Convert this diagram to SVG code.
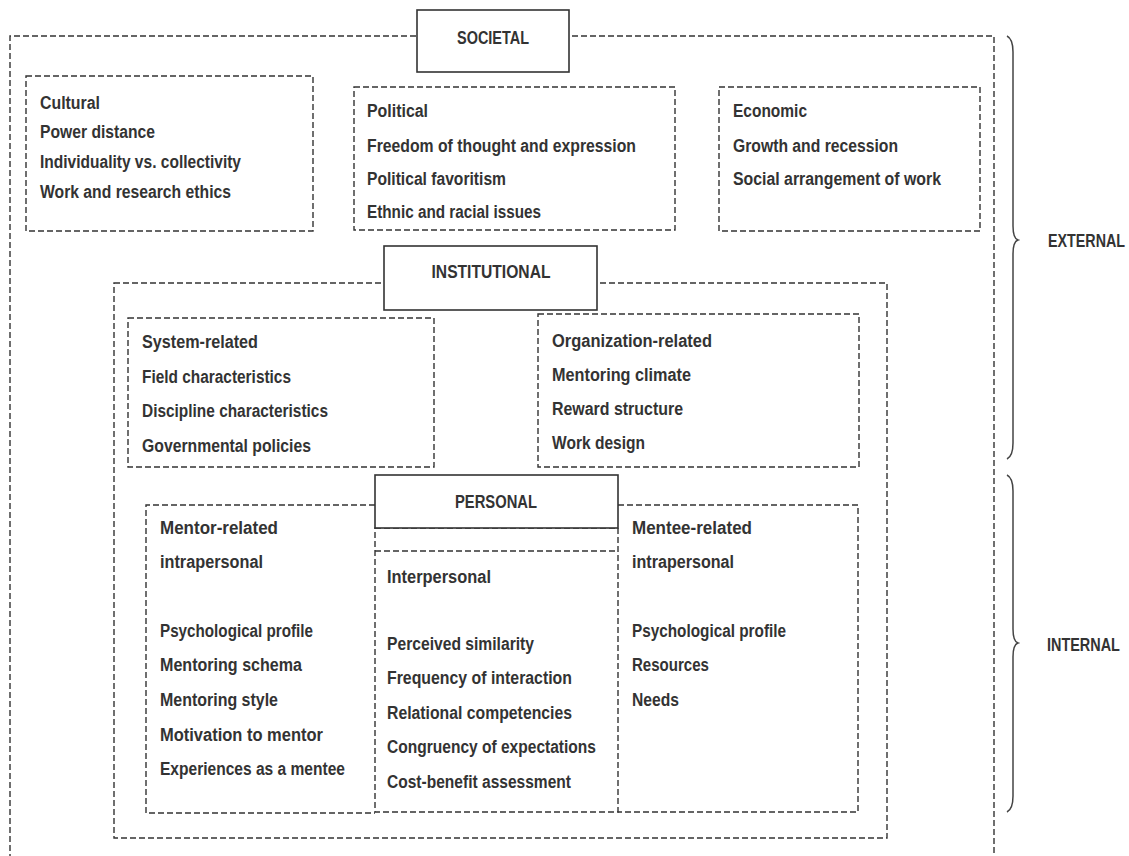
<svg xmlns="http://www.w3.org/2000/svg" width="1129" height="856" viewBox="0 0 1129 856">
  <style>
    .dash { fill: none; stroke: #333; stroke-width: 1.4; stroke-dasharray: 6 3; }
    .solid { fill: #fff; stroke: #333; stroke-width: 1.6; }
    .brace { fill: none; stroke: #444; stroke-width: 1.5; }
    text { font-family: "Liberation Sans", Arial, sans-serif; font-weight: bold; font-size: 18px; fill: #333; }
    .head { text-anchor: middle; }
  </style>
  <rect width="1129" height="856" fill="#fff"/>

  <!-- Societal level -->
  <g id="societal">
    <path class="dash" d="M10,860 V36 H994 V860"/>
    <rect class="solid" x="417" y="10" width="152" height="62"/>
    <text class="head" x="493" y="44" textLength="72" lengthAdjust="spacingAndGlyphs">SOCIETAL</text>
  </g>

  <g id="cultural">
    <rect class="dash" x="26" y="76" width="287" height="155"/>
    <text x="40" y="109" textLength="60" lengthAdjust="spacingAndGlyphs">Cultural</text>
    <text x="40" y="138" textLength="115" lengthAdjust="spacingAndGlyphs">Power distance</text>
    <text x="40" y="168" textLength="201" lengthAdjust="spacingAndGlyphs">Individuality vs. collectivity</text>
    <text x="40" y="198" textLength="191" lengthAdjust="spacingAndGlyphs">Work and research ethics</text>
  </g>

  <g id="political">
    <rect class="dash" x="354" y="87" width="321" height="143"/>
    <text x="367" y="117" textLength="61" lengthAdjust="spacingAndGlyphs">Political</text>
    <text x="367" y="152" textLength="269" lengthAdjust="spacingAndGlyphs">Freedom of thought and expression</text>
    <text x="367" y="185" textLength="139" lengthAdjust="spacingAndGlyphs">Political favoritism</text>
    <text x="367" y="218" textLength="174" lengthAdjust="spacingAndGlyphs">Ethnic and racial issues</text>
  </g>

  <g id="economic">
    <rect class="dash" x="719" y="87" width="261" height="144"/>
    <text x="733" y="117" textLength="74" lengthAdjust="spacingAndGlyphs">Economic</text>
    <text x="733" y="152" textLength="165" lengthAdjust="spacingAndGlyphs">Growth and recession</text>
    <text x="733" y="185" textLength="208" lengthAdjust="spacingAndGlyphs">Social arrangement of work</text>
  </g>

  <!-- Institutional level -->
  <g id="institutional">
    <rect class="dash" x="114" y="283" width="773" height="555"/>
    <rect class="solid" x="384" y="246" width="213" height="64"/>
    <text class="head" x="491" y="278" textLength="119" lengthAdjust="spacingAndGlyphs">INSTITUTIONAL</text>
  </g>

  <g id="system-related">
    <rect class="dash" x="128" y="318" width="306" height="149"/>
    <text x="142" y="348" textLength="116" lengthAdjust="spacingAndGlyphs">System-related</text>
    <text x="142" y="383" textLength="149" lengthAdjust="spacingAndGlyphs">Field characteristics</text>
    <text x="142" y="417" textLength="186" lengthAdjust="spacingAndGlyphs">Discipline characteristics</text>
    <text x="142" y="452" textLength="169" lengthAdjust="spacingAndGlyphs">Governmental policies</text>
  </g>

  <g id="organization-related">
    <rect class="dash" x="538" y="314" width="321" height="153"/>
    <text x="552" y="347" textLength="160" lengthAdjust="spacingAndGlyphs">Organization-related</text>
    <text x="552" y="381" textLength="139" lengthAdjust="spacingAndGlyphs">Mentoring climate</text>
    <text x="552" y="415" textLength="131" lengthAdjust="spacingAndGlyphs">Reward structure</text>
    <text x="552" y="449" textLength="93" lengthAdjust="spacingAndGlyphs">Work design</text>
  </g>

  <!-- Personal level -->
  <g id="mentor-related">
    <path class="dash" d="M375,505 H146 V813 H375"/>
    <text x="160" y="534" textLength="118" lengthAdjust="spacingAndGlyphs">Mentor-related</text>
    <text x="160" y="568" textLength="103" lengthAdjust="spacingAndGlyphs">intrapersonal</text>
    <text x="160" y="637" textLength="153" lengthAdjust="spacingAndGlyphs">Psychological profile</text>
    <text x="160" y="671" textLength="142" lengthAdjust="spacingAndGlyphs">Mentoring schema</text>
    <text x="160" y="706" textLength="118" lengthAdjust="spacingAndGlyphs">Mentoring style</text>
    <text x="160" y="741" textLength="163" lengthAdjust="spacingAndGlyphs">Motivation to mentor</text>
    <text x="160" y="775" textLength="185" lengthAdjust="spacingAndGlyphs">Experiences as a mentee</text>
  </g>

  <g id="interpersonal">
    <rect class="dash" x="375" y="528" width="243" height="284"/>
    <line class="dash" x1="375" y1="551" x2="618" y2="551"/>
    <text x="387" y="583" textLength="104" lengthAdjust="spacingAndGlyphs">Interpersonal</text>
    <text x="387" y="650" textLength="147" lengthAdjust="spacingAndGlyphs">Perceived similarity</text>
    <text x="387" y="684" textLength="185" lengthAdjust="spacingAndGlyphs">Frequency of interaction</text>
    <text x="387" y="719" textLength="185" lengthAdjust="spacingAndGlyphs">Relational competencies</text>
    <text x="387" y="753" textLength="209" lengthAdjust="spacingAndGlyphs">Congruency of expectations</text>
    <text x="387" y="788" textLength="184" lengthAdjust="spacingAndGlyphs">Cost-benefit assessment</text>
  </g>

  <g id="mentee-related">
    <path class="dash" d="M618,505 H858 V812 H618"/>
    <text x="632" y="534" textLength="120" lengthAdjust="spacingAndGlyphs">Mentee-related</text>
    <text x="632" y="568" textLength="102" lengthAdjust="spacingAndGlyphs">intrapersonal</text>
    <text x="632" y="637" textLength="154" lengthAdjust="spacingAndGlyphs">Psychological profile</text>
    <text x="632" y="671" textLength="77" lengthAdjust="spacingAndGlyphs">Resources</text>
    <text x="632" y="706" textLength="47" lengthAdjust="spacingAndGlyphs">Needs</text>
  </g>

  <g id="personal">
    <rect class="solid" x="375" y="475" width="243" height="53"/>
    <text class="head" x="496" y="508" textLength="82" lengthAdjust="spacingAndGlyphs">PERSONAL</text>
  </g>

  <!-- Side braces grouping the levels -->
  <g id="connectors">
    <path class="brace" d="M1007,36 C1011,38 1013,43 1013,52 L1013,226 C1013,235 1015,239 1018,240 C1015,241 1013,245 1013,254 L1013,443 C1013,452 1011,457 1007,459"/>
    <path class="brace" d="M1007,475 C1011,477 1013,482 1013,491 L1013,629 C1013,638 1015,642 1018,643 C1015,644 1013,648 1013,657 L1013,796 C1013,805 1011,810 1007,812"/>
  </g>

  <g id="external">
    <text transform="translate(1048,247) scale(0.794,1)">EXTERNAL</text>
  </g>
  <g id="internal">
    <text transform="translate(1047,651) scale(0.802,1)">INTERNAL</text>
  </g>
</svg>
